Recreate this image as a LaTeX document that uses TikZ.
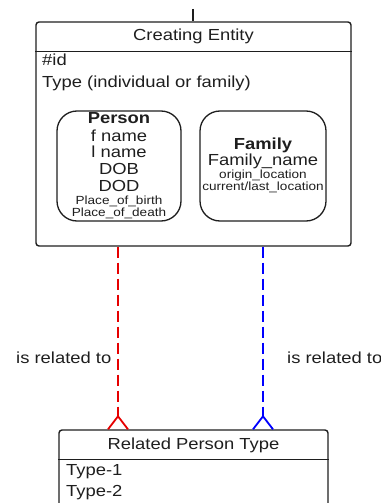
\documentclass[tikz,border=0pt]{standalone}
\usepackage{fontspec}
\setmainfont{Liberation Sans}[FakeStretch=1.15]
\usetikzlibrary{calc}
\definecolor{relred}{RGB}{230,0,0}
\definecolor{relblue}{RGB}{0,0,255}
\definecolor{ink}{RGB}{30,30,30}
\begin{document}
\begin{tikzpicture}[x=1pt,y=-1pt,
  big/.style={font=\fontsize{16}{19}\selectfont, text=ink},
  small/.style={font=\fontsize{11.8}{14}\selectfont, text=ink},
  txt/.style={inner sep=0pt, anchor=base},
  txtw/.style={inner sep=0pt, anchor=base west},
  entity/.style={draw=ink, line width=1.4pt, rounded corners=3pt, inner sep=0pt},
  subbox/.style={draw=ink, line width=1.3pt, rounded corners=20pt, inner sep=0pt},
  rel/.style={line width=1.8pt, dash pattern=on 11pt off 5pt},
  foot/.style={line width=1.8pt}]
\useasboundingbox (0,0) rectangle (380,503);
\clip (0,0) rectangle (380,503);

% Creating Entity
\node[entity, minimum width=315pt, minimum height=224pt] (ce) at (193.5,134) {};
\draw[ink, line width=1.4pt] ($(ce.north west)+(0,30)$) -- ($(ce.north east)+(0,30)$);
\coordinate (top) at (193,9);
\draw[ink, line width=2pt] (top) -- (ce.north -| top);
\node[txt,big] (cet) at (193.5,41) {Creating Entity};
\node[txtw,big] (id) at (42,66) {\#id};
\node[txtw,big] (type) at (42,87) {Type (individual or family)};

% Person
\node[subbox, minimum width=124pt, minimum height=110pt] (person) at (119,166) {};
\node[txt,big] (p0) at (119,123) {\textbf{Person}};
\node[txt,big] (p1) at (119,141) {f name};
\node[txt,big] (p2) at (119,157) {l name};
\node[txt,big] (p3) at (119,174) {DOB};
\node[txt,big] (p4) at (119,191) {DOD};
\node[txt,small] (p5) at (119,204) {Place\_of\_birth};
\node[txt,small] (p6) at (119,216) {Place\_of\_death};

% Family
\node[subbox, minimum width=126pt, minimum height=110pt] (family) at (263,166) {};
\node[txt,big] (f0) at (263,149) {\textbf{Family}};
\node[txt,big] (f1) at (263,165) {Family\_name};
\node[txt,small] (f2) at (263,178) {origin\_location};
\node[txt,small] (f3) at (263,190) {current/last\_location};

% Related Person Type
\node[entity, minimum width=269pt, minimum height=100pt] (rp) at (193.5,480) {};
\draw[ink, line width=1.4pt] ($(rp.north west)+(0,30)$) -- ($(rp.north east)+(0,30)$);
\node[txt,big] (rpt) at (193.5,449) {Related Person Type};
\node[txtw,big] (t1) at (66,475) {Type-1};
\node[txtw,big] (t2) at (66,496) {Type-2};

% connectors
\coordinate (rx) at (118,0);
\coordinate (bx) at (263,0);
\draw[rel, relred] (ce.south -| rx) -- ($(rp.north -| rx)+(0,-22)$);
\draw[foot, relred] ($(rp.north -| rx)+(0,-22)$) -- ($(rp.north -| rx)+(0,-13)$) -- ($(rp.north -| rx)+(-10,0)$)
  ($(rp.north -| rx)+(0,-13)$) -- ($(rp.north -| rx)+(10,0)$);
\draw[rel, relblue] (ce.south -| bx) -- ($(rp.north -| bx)+(0,-22)$);
\draw[foot, relblue] ($(rp.north -| bx)+(0,-22)$) -- ($(rp.north -| bx)+(0,-13)$) -- ($(rp.north -| bx)+(-10,0)$)
  ($(rp.north -| bx)+(0,-13)$) -- ($(rp.north -| bx)+(10,0)$);

\node[txtw,big] (l1) at (16,363) {is related to};
\node[txtw,big] (l2) at (287,363) {is related to};
\end{tikzpicture}
\end{document}
